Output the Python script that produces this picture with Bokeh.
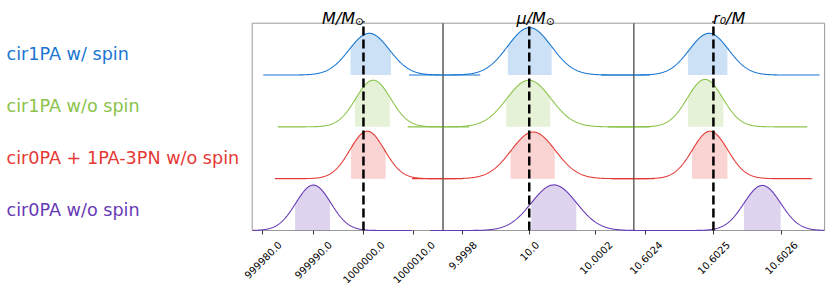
import math
import numpy as np
from bokeh.plotting import figure
from bokeh.models import Range1d, LinearAxis, FixedTicker, BoxAnnotation
from bokeh.core.properties import value
from bokeh.embed import file_html
from bokeh.resources import INLINE

# ---------------- data ----------------
series_labels = ["cir1PA w/ spin", "cir1PA w/o spin",
                 "cir0PA + 1PA-3PN w/o spin", "cir0PA w/o spin"]
series_colors = ["#1976D2", "#8BC34A", "#E53935", "#673AB7"]
series_levels = [3, 2, 1, 0]

# Panel 1: M / M_sun
m_lim = [999977.9, 1000015.8]
m_true = 1000000.0
m_ticks = [999980.0, 999990.0, 1000000.0, 1000010.0]
m_tick_labels = ["999980.0", "999990.0", "1000000.0", "1000010.0"]
m_peak = [1000001.15, 1000001.94, 1000000.75, 999990.05]
m_sigma = [4.0, 3.47, 3.44, 3.47]
m_ci_lo = [999997.44, 999998.31, 999997.54, 999986.42]
m_ci_hi = [1000005.45, 1000005.25, 1000004.42, 999993.36]
m_height = [0.805, 0.90, 0.915, 0.876]
m_dom_lo = [999980.1, 999983.0, 999982.4, 999978.0]
m_dom_hi = [1000023.2, 1000021.0, 1000019.7, 1000009.6]

# Panel 2: mu / M_sun
mu_lim = [9.999741, 10.000314]
mu_true = 10.0
mu_ticks = [9.9998, 10.0, 10.0002]
mu_tick_labels = ["9.9998", "10.0", "10.0002"]
mu_peak = [10.0000009, 9.999999, 10.000012, 10.0000742]
mu_sigma = [0.0000657, 0.0000662, 0.0000662, 0.0000677]
mu_ci_lo = [9.9999357, 9.9999308, 9.9999438, 10.000006]
mu_ci_hi = [10.0000672, 10.0000632, 10.0000767, 10.0001414]
mu_height = [0.915, 0.90, 0.90, 0.88]
mu_dom_lo = [9.999639, 9.999635, 9.999648, 9.999702]
mu_dom_hi = [10.000362, 10.000363, 10.000376, 10.000447]

# Panel 3: r0 / M
r_lim = [10.6023822, 10.6026645]
r_true = 10.6025
r_ticks = [10.6024, 10.6025, 10.6026]
r_tick_labels = ["10.6024", "10.6025", "10.6026"]
r_peak = [10.6024935, 10.6024876, 10.602495, 10.6025724]
r_sigma = [0.0000291, 0.0000262, 0.0000262, 0.0000271]
r_ci_lo = [10.6024625, 10.6024625, 10.6024684, 10.6025452]
r_ci_hi = [10.6025207, 10.6025148, 10.6025207, 10.6025995]
r_height = [0.805, 0.915, 0.915, 0.87]
r_dom_lo = [10.6023335, 10.6023435, 10.602351, 10.602423]
r_dom_hi = [10.6026571, 10.6026389, 10.6026463, 10.602664]

panels = [
    dict(name="m", lim=m_lim, true=m_true, ticks=m_ticks, tick_labels=m_tick_labels,
         peak=m_peak, sigma=m_sigma, ci_lo=m_ci_lo, ci_hi=m_ci_hi, height=m_height,
         dom_lo=m_dom_lo, dom_hi=m_dom_hi, title=("M/M", "\u2299")),
    dict(name="mu", lim=mu_lim, true=mu_true, ticks=mu_ticks, tick_labels=mu_tick_labels,
         peak=mu_peak, sigma=mu_sigma, ci_lo=mu_ci_lo, ci_hi=mu_ci_hi, height=mu_height,
         dom_lo=mu_dom_lo, dom_hi=mu_dom_hi, title=("\u03bc/M", "\u2299")),
    dict(name="r", lim=r_lim, true=r_true, ticks=r_ticks, tick_labels=r_tick_labels,
         peak=r_peak, sigma=r_sigma, ci_lo=r_ci_lo, ci_hi=r_ci_hi, height=r_height,
         dom_lo=r_dom_lo, dom_hi=r_dom_hi, title=("r\u2080/M", "")),
]

# ---------------- layout (pixels) ----------------
FONT = "DejaVu Sans"
FIG_W, FIG_H = 828, 288
PANEL_LEFT = 251.7      # left edge of first panel
PANEL_W = 190.8         # width of each panel
PANEL_TOP = 22.7        # top edge of panels
PANEL_BOTTOM = 230.0    # bottom edge of panels
Y_TOP = 4.0             # data value at panel top
px_per_y = (PANEL_BOTTOM - PANEL_TOP) / Y_TOP
TICK_FONT_PX = 10.0


def text_width(s, size):
    """Approximate DejaVu Sans advance width of a numeric label."""
    return size * sum(0.318 if ch == "." else 0.636 for ch in s)


y_range = Range1d(-(FIG_H - PANEL_BOTTOM) / px_per_y, Y_TOP + PANEL_TOP / px_per_y)

p = figure(width=FIG_W, height=FIG_H, x_range=Range1d(0, FIG_W), y_range=y_range,
           x_axis_location=None, y_axis_location=None,
           min_border=0, min_border_left=0, min_border_right=0,
           min_border_top=0, min_border_bottom=0,
           output_backend="svg", toolbar_location=None, title=None)
p.grid.visible = False
p.outline_line_color = None
p.background_fill_color = "white"
p.border_fill_color = "white"

n_panels = len(panels)
for k, pn in enumerate(panels):
    lo, hi = pn["lim"]
    s = (hi - lo) / PANEL_W
    left_px = PANEL_LEFT + k * PANEL_W
    p.extra_x_ranges[pn["name"]] = Range1d(lo - left_px * s, lo + (FIG_W - left_px) * s)

for k, pn in enumerate(panels):
    rn = pn["name"]
    lo, hi = pn["lim"]
    # panel box
    p.add_layout(BoxAnnotation(left=lo, right=hi, bottom=0, top=Y_TOP, x_range_name=rn,
                               fill_color=None, fill_alpha=0, line_color="#9a9a9a",
                               line_alpha=1.0, line_width=1, level="underlay"))

for k, pn in enumerate(panels):
    rn = pn["name"]
    for i in range(4):
        lvl = series_levels[i]
        col = series_colors[i]
        mu0, sg, h = pn["peak"][i], pn["sigma"][i], pn["height"][i]
        xf = np.linspace(pn["ci_lo"][i], pn["ci_hi"][i], 120)
        yf = lvl + h * np.exp(-0.5 * ((xf - mu0) / sg) ** 2)
        p.varea(x=xf, y1=np.full_like(xf, lvl), y2=yf, x_range_name=rn,
                fill_color=col, fill_alpha=0.22)
        xl = np.linspace(pn["dom_lo"][i], pn["dom_hi"][i], 400)
        yl = lvl + h * np.exp(-0.5 * ((xl - mu0) / sg) ** 2)
        p.line(x=xl, y=yl, x_range_name=rn, line_color=col, line_width=1.1)

for k, pn in enumerate(panels):
    rn = pn["name"]
    lo, hi = pn["lim"]
    # divider between panels
    if k < n_panels - 1:
        p.segment(x0=[hi], y0=[0], x1=[hi], y1=[Y_TOP], x_range_name=rn,
                  line_color="#555555", line_width=1)
    # axis (tick marks) for this panel
    ax = LinearAxis(x_range_name=rn, ticker=FixedTicker(ticks=pn["ticks"]),
                    fixed_location=0)
    ax.major_label_text_alpha = 0
    ax.axis_line_color = None
    ax.major_tick_in = 0
    ax.major_tick_out = 4
    ax.major_tick_line_color = "#333333"
    ax.minor_tick_line_color = None
    p.add_layout(ax, "below")

    # rotated tick labels, centred on their tick (45 degrees)
    widths = [text_width(t, TICK_FONT_PX) for t in pn["tick_labels"]]
    p.text(x=pn["ticks"], y=[0] * len(pn["ticks"]), text=pn["tick_labels"],
           x_range_name=rn, angle=math.pi / 4,
           x_offset=[0.3535 * w for w in widths], y_offset=12.3,
           text_align="right", text_baseline="middle",
           text_font=value(FONT), text_font_size=f"{TICK_FONT_PX}px",
           text_color="black")

    # true value (dashed)
    p.segment(x0=[pn["true"]], y0=[0], x1=[pn["true"]], y1=[Y_TOP + 0.04],
              x_range_name=rn, line_color="black", line_width=2.5, line_dash="9 4")

    # title
    cx = 0.5 * (lo + hi)
    main, sub = pn["title"]
    ty = Y_TOP + 4.4 / px_per_y
    if sub:
        p.text(x=[cx], y=[ty], text=[main], x_range_name=rn, x_offset=7.5,
               text_align="right", text_baseline="alphabetic",
               text_font=value(FONT), text_font_style="italic",
               text_font_size="16px", text_color="black")
        p.text(x=[cx], y=[ty], text=[sub], x_range_name=rn, x_offset=7.5, y_offset=2,
               text_align="left", text_baseline="alphabetic",
               text_font=value(FONT), text_font_size="10.5px", text_color="black")
    else:
        p.text(x=[cx], y=[ty], text=[main], x_range_name=rn,
               text_align="center", text_baseline="alphabetic",
               text_font=value(FONT), text_font_style="italic",
               text_font_size="16px", text_color="black")

# left series labels
p.text(x=[6] * 4, y=[lv + 0.4 for lv in series_levels], text=series_labels,
       text_color=series_colors, text_font=value(FONT), text_font_size="17.6px",
       text_align="left", text_baseline="alphabetic")

open("out.html", "w").write(file_html(p, INLINE))
